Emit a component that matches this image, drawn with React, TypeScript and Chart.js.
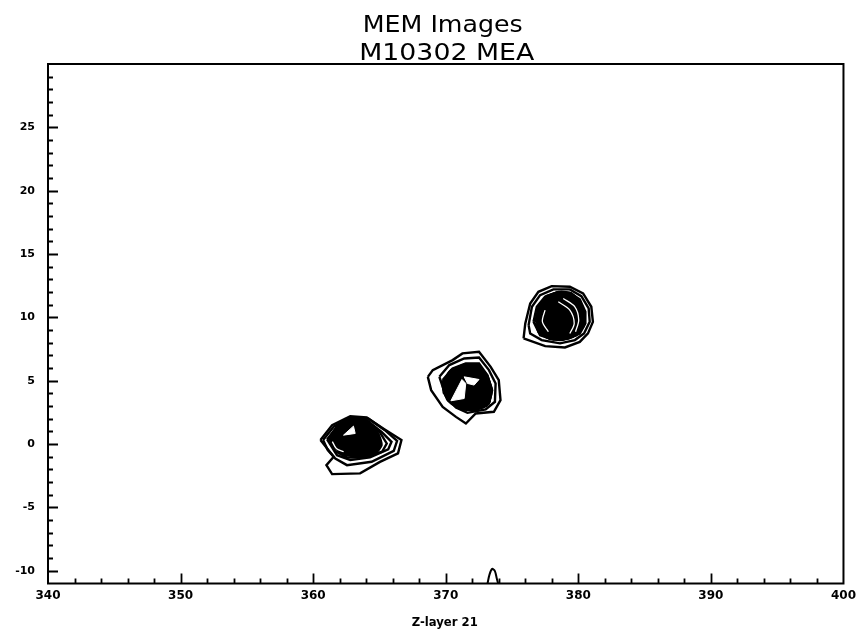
import React, { useEffect, useRef } from "react";
import { Chart, registerables } from "chart.js";

Chart.register(...registerables);

// ---- text ----
const TITLE_LINE_1 = "MEM Images";
const TITLE_LINE_2 = "M10302 MEA";
const X_TITLE = "Z-layer 21";

// ---- axes ----
const X_MIN = 340;
const X_MAX = 400;
const Y_MIN = -11;
const Y_MAX = 30;
const X_LABELS = [340, 350, 360, 370, 380, 390, 400];
const Y_LABELS = [-10, -5, 0, 5, 10, 15, 20, 25];
const X_MINOR_STEP = 2;
const Y_MINOR_STEP = 1;

// ---- contours: lower-left source ----
const blobAOuter = [[360.55, 0.32], [361.43, 1.5], [362.8, 2.21], [364.04, 2.1], [365.28, 1.24], [366.66, 0.32], [366.4, -0.73], [365.04, -1.4], [363.54, -2.31], [361.43, -2.37], [361.0, -1.66], [361.55, -1.0]];
const blobARing2 = [[360.75, 0.32], [361.55, 1.37], [362.8, 2.1], [364.17, 2.0], [365.41, 1.1], [366.33, 0.26], [366.08, -0.53], [364.41, -1.39], [362.55, -1.66], [361.67, -1.13], [361.1, -0.47]];
const blobARing3 = [[361.05, 0.37], [361.8, 1.37], [362.92, 2.0], [364.04, 1.89], [365.16, 0.97], [365.91, 0.18], [365.66, -0.42], [364.29, -1.05], [362.8, -1.26], [361.8, -0.87]];
const blobARing4 = [[361.15, 0.4], [361.85, 1.45], [363.0, 2.05], [364.1, 1.82], [365.05, 0.9], [365.55, 0.05], [365.2, -0.6], [363.85, -1.05], [362.55, -1.05], [361.65, -0.55]];
const blobACore = [[361.25, 0.45], [361.92, 1.5], [363.04, 2.1], [364.17, 1.76], [364.91, 0.84], [365.16, -0.08], [364.66, -0.74], [363.42, -1.0], [362.3, -0.79], [361.55, -0.21]];
const blobAHole = [[362.29, 0.71], [363.04, 1.42], [363.17, 0.84]];
const blobAGap = [[361.45, 0.2], [361.75, -0.35], [362.3, -0.6]];

// ---- contours: middle source ----
const blobBOuter = [[368.65, 5.31], [369.02, 5.84], [370.52, 6.63], [371.26, 7.16], [372.51, 7.28], [373.39, 6.1], [374.0, 5.05], [374.13, 3.47], [373.63, 2.55], [372.26, 2.42], [371.52, 1.63], [370.77, 2.15], [369.77, 2.94], [368.9, 4.26]];
const blobBRing2 = [[369.52, 5.31], [370.27, 6.24], [371.39, 6.76], [372.51, 6.84], [373.26, 5.84], [373.76, 4.79], [373.71, 3.34], [373.01, 2.74], [371.64, 2.47], [370.77, 2.89], [370.02, 3.74]];
const blobBRing3 = [[369.77, 5.05], [370.52, 5.97], [371.51, 6.37], [372.51, 6.37], [373.13, 5.45], [373.46, 4.39], [373.31, 3.34], [372.51, 2.89], [371.39, 2.74], [370.52, 3.34], [369.9, 4.13]];
const blobBRing4 = [[369.75, 4.85], [370.4, 5.85], [371.4, 6.28], [372.45, 6.25], [373.15, 5.4], [373.5, 4.25], [373.25, 3.2], [372.35, 2.78], [371.2, 2.76], [370.3, 3.4], [369.85, 4.05]];
const blobBCore = [[369.77, 4.66], [370.27, 5.71], [371.27, 6.16], [372.39, 6.1], [373.13, 5.31], [373.46, 4.13], [373.13, 3.08], [372.14, 2.68], [371.02, 2.82], [370.14, 3.47]];
const blobBHole1 = [[370.39, 3.42], [371.22, 5.1], [371.51, 4.79], [371.39, 3.6]];
const blobBHole2 = [[371.39, 5.31], [372.51, 5.1], [372.14, 4.66], [371.64, 4.79]];

// ---- contours: upper-right source ----
const blobCOuter = [[375.87, 8.34], [376.0, 9.53], [376.37, 11.1], [376.99, 12.02], [377.99, 12.47], [379.36, 12.42], [380.36, 11.89], [380.98, 10.84], [381.1, 9.65], [380.73, 8.74], [380.11, 8.07], [378.99, 7.63], [377.5, 7.73]];
const blobCRing2 = [[376.25, 9.39], [376.5, 10.84], [377.12, 11.76], [378.12, 12.21], [379.36, 12.21], [380.23, 11.68], [380.78, 10.71], [380.86, 9.66], [380.43, 8.73], [379.74, 8.21], [378.62, 7.95], [377.24, 8.21], [376.37, 8.73]];
const blobCRing3 = [[376.62, 9.66], [376.87, 10.84], [377.49, 11.63], [378.37, 11.97], [379.36, 11.94], [380.11, 11.42], [380.53, 10.44], [380.53, 9.52], [380.11, 8.73], [379.24, 8.34], [378.12, 8.26], [377.12, 8.6]];
const blobCRing4 = [[376.75, 9.6], [377.0, 10.84], [377.6, 11.68], [378.5, 12.0], [379.42, 11.92], [380.1, 11.32], [380.45, 10.3], [380.4, 9.3], [379.85, 8.6], [378.9, 8.28], [377.85, 8.3], [377.05, 8.75]];
const blobCCore = [[376.87, 9.52], [377.12, 10.84], [377.74, 11.68], [378.62, 12.02], [379.49, 11.89], [380.11, 11.23], [380.36, 10.18], [380.23, 9.13], [379.61, 8.47], [378.62, 8.21], [377.62, 8.42], [377.0, 8.87]];
const blobCGapA = [[378.86, 11.5], [379.74, 10.84], [380.03, 9.79], [379.79, 8.87]];
const blobCGapB = [[378.49, 11.23], [379.36, 10.58], [379.69, 9.52], [379.36, 8.73]];
const blobCGapC = [[377.49, 10.58], [377.29, 9.66], [377.74, 8.87]];

// ---- small feature at the bottom edge ----
const bottomBump = [[373.15, -11], [373.3, -10.3], [373.5, -9.85], [373.7, -10.0], [373.85, -10.6], [373.95, -11]];

const FONT = "'DejaVu Sans', sans-serif";

type P = number[];
const pts = (a: P[], close: boolean) => {
  const arr = close ? [...a, a[0]] : a;
  return arr.map(([x, y]) => ({ x, y }));
};

const ring = (a: P[]) => ({
  data: pts(a, true),
  showLine: true,
  borderColor: "#000",
  borderWidth: 2.4,
  pointRadius: 0,
  fill: false,
  tension: 0,
  order: 3,
});
const core = (a: P[]) => ({
  data: pts(a, true),
  showLine: true,
  borderColor: "#000",
  backgroundColor: "#000",
  borderWidth: 2.4,
  pointRadius: 0,
  fill: "shape",
  tension: 0.2,
  order: 2,
});
const hole = (a: P[]) => ({
  data: pts(a, true),
  showLine: true,
  borderColor: "#fff",
  backgroundColor: "#fff",
  borderWidth: 1,
  pointRadius: 0,
  fill: "shape",
  tension: 0,
  order: 1,
});
const gap = (a: P[]) => ({
  data: pts(a, false),
  showLine: true,
  borderColor: "#fff",
  borderWidth: 1.3,
  pointRadius: 0,
  fill: false,
  tension: 0.3,
  order: 1,
});
const open = (a: P[]) => ({
  data: pts(a, false),
  showLine: true,
  borderColor: "#000",
  borderWidth: 2,
  pointRadius: 0,
  fill: false,
  tension: 0.3,
  order: 3,
});

const framePlugin = {
  id: "frame",
  afterDraw(chart: any) {
    const { ctx, chartArea: a, scales } = chart;
    const xs = scales.x;
    const ys = scales.y;
    ctx.save();
    ctx.strokeStyle = "#000";
    ctx.lineWidth = 2;
    ctx.strokeRect(a.left, a.top, a.right - a.left, a.bottom - a.top);
    // inward tick marks
    ctx.lineWidth = 1.8;
    ctx.beginPath();
    for (let v = X_MIN + X_MINOR_STEP; v < X_MAX; v += X_MINOR_STEP) {
      const px = Math.round(xs.getPixelForValue(v)) + 0.5;
      const len = X_LABELS.includes(v) ? 10 : 5;
      ctx.moveTo(px, a.bottom);
      ctx.lineTo(px, a.bottom - len);
    }
    for (let v = Y_MIN + Y_MINOR_STEP; v < Y_MAX; v += Y_MINOR_STEP) {
      const py = Math.round(ys.getPixelForValue(v)) + 0.5;
      const len = Y_LABELS.includes(v) ? 10 : 5;
      ctx.moveTo(a.left, py);
      ctx.lineTo(a.left + len, py);
    }
    ctx.stroke();

    // titles
    const cx = (a.left + a.right) / 2;
    ctx.fillStyle = "#000";
    ctx.textAlign = "center";
    ctx.textBaseline = "alphabetic";
    const drawStretched = (t: string, x: number, y: number, w: number, font: string) => {
      ctx.font = font;
      const m = ctx.measureText(t).width;
      ctx.save();
      ctx.translate(x, y);
      ctx.scale(w / m, 1);
      ctx.fillText(t, 0, 0);
      ctx.restore();
    };
    drawStretched(TITLE_LINE_1, cx - 3, 32, 160, `23px ${FONT}`);
    drawStretched(TITLE_LINE_2, cx + 1, 60, 175, `23px ${FONT}`);
    ctx.textBaseline = "middle";
    drawStretched(X_TITLE, cx - 1, 623, 66, `bold 12px ${FONT}`);
    ctx.restore();
  },
};

export default function App() {
  const ref = useRef<HTMLCanvasElement | null>(null);
  useEffect(() => {
    if (!ref.current) return;
    const chart = new Chart(ref.current, {
      type: "scatter",
      data: {
        datasets: [
          ring(blobAOuter), ring(blobARing2), ring(blobARing3), ring(blobARing4), core(blobACore), hole(blobAHole), gap(blobAGap),
          ring(blobBOuter), ring(blobBRing2), ring(blobBRing3), ring(blobBRing4), core(blobBCore), hole(blobBHole1), hole(blobBHole2),
          ring(blobCOuter), ring(blobCRing2), ring(blobCRing3), ring(blobCRing4), core(blobCCore), gap(blobCGapA), gap(blobCGapB), gap(blobCGapC),
          open(bottomBump),
        ] as any,
      },
      options: {
        animation: false,
        responsive: false,
        devicePixelRatio: 1,
        events: [],
        layout: { padding: { top: 64, right: 16, left: 0, bottom: 0 } },
        plugins: { legend: { display: false }, tooltip: { enabled: false }, title: { display: false } },
        scales: {
          x: {
            type: "linear",
            min: X_MIN,
            max: X_MAX,
            grid: { display: false, drawTicks: false },
            border: { display: false },
            afterFit: (s: any) => { s.height = 50.5; },
            ticks: {
              stepSize: X_MINOR_STEP,
              autoSkip: false,
              maxRotation: 0,
              padding: 5,
              color: "#000",
              font: { family: FONT, size: 12, weight: "bold" },
              callback: (v: any) => (X_LABELS.includes(Number(v)) ? String(v) : ""),
            },
          },
          y: {
            type: "linear",
            min: Y_MIN,
            max: Y_MAX,
            grid: { display: false, drawTicks: false },
            border: { display: false },
            afterFit: (s: any) => { s.width = 48; },
            ticks: {
              stepSize: Y_MINOR_STEP,
              autoSkip: false,
              padding: 13,
              color: "#000",
              font: { family: FONT, size: 11, weight: "bold" },
              callback: (v: any) => (Y_LABELS.includes(Number(v)) ? String(v) : ""),
            },
          },
        },
      } as any,
      plugins: [framePlugin],
    });
    return () => chart.destroy();
  }, []);
  return (
    <div style={{ position: "fixed", left: 0, top: 0, width: 861, height: 634, background: "#fff" }}>
      <canvas ref={ref} width={861} height={634} style={{ width: 861, height: 634, display: "block" }} />
    </div>
  );
}
